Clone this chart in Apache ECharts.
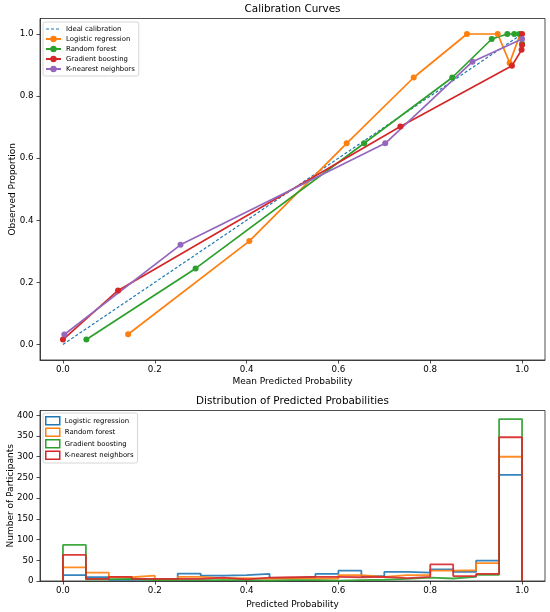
<!DOCTYPE html>
<html>
<head>
<meta charset="utf-8">
<script src="https://cdn.jsdelivr.net/npm/echarts@6/dist/echarts.min.js"></script>
<style>
  html, body { margin: 0; padding: 0; background: #fff; }
  #chart { width: 550px; height: 612px; }
</style>
</head>
<body>
<div id="chart"></div>
<script>
// calibration curves (mean predicted, observed proportion)
var idealLine = [0, 1];
var lrX = [0.142, 0.406, 0.618, 0.764, 0.880, 0.947, 0.973, 0.996];
var lrY = [0.033, 0.333, 0.648, 0.860, 1.0, 1.0, 0.907, 1.0];
var rfX = [0.051, 0.289, 0.656, 0.848, 0.934, 0.968, 0.983, 0.994, 1.0];
var rfY = [0.016, 0.245, 0.648, 0.860, 0.984, 1.0, 1.0, 1.0, 0.969];
var gbX = [0.0, 0.120, 0.735, 0.978, 0.999, 1.0, 1.0];
var gbY = [0.016, 0.174, 0.702, 0.898, 0.949, 1.0, 0.965];
var knnX = [0.003, 0.256, 0.702, 0.892, 1.0];
var knnY = [0.032, 0.321, 0.648, 0.911, 0.984];

// histogram counts, 20 bins of width 0.05
var binWidth = 0.05;
var histLR  = [14, 9, 3, 4, 4, 18, 13, 14, 17, 7, 10, 17, 25, 12, 22, 20, 28, 22, 49, 256];
var histRF  = [33, 20, 9, 13, 3, 10, 6, 7, 5, 6, 6, 6, 14, 10, 14, 14, 25, 26, 43, 300];
var histGB  = [87, 4, 5, 2, 2, 2, 2, 2, 1, 2, 2, 1, 2, 3, 5, 8, 6, 10, 15, 391];
var histKNN = [63, 5, 10, 5, 5, 5, 8, 4, 8, 9, 10, 10, 9, 10, 7, 10, 40, 12, 17, 347];

var models = ['Logistic regression', 'Random forest', 'Gradient boosting', 'K-nearest neighbors'];
var probTicks = [0, 0.2, 0.4, 0.6, 0.8, 1.0];
var countTicks = [0, 50, 100, 150, 200, 250, 300, 350, 400];

var FONT = 'DejaVu Sans';
var C = { blue: '#1f77b4', orange: '#ff7f0e', green: '#2ca02c', red: '#d62728', purple: '#9467bd' };

function pairs(xs, ys) {
  return xs.map(function (x, i) { return [x, ys[i]]; });
}

// outline of a step histogram
function stepOutline(counts) {
  var pts = [[0, 0]];
  counts.forEach(function (c, i) {
    pts.push([i * binWidth, c]);
    pts.push([(i + 1) * binWidth, c]);
  });
  pts.push([counts.length * binWidth, 0]);
  return pts;
}

var tickStyle = { color: '#222', width: 0.8 };

function xAxisCfg(grid, name, gap) {
  return {
    type: 'value', gridIndex: grid, min: -0.05, max: 1.05,
    name: name, nameLocation: 'middle', nameGap: gap, nameMoveOverlap: false,
    nameTextStyle: { fontSize: 9, color: '#000', fontFamily: FONT },
    axisLine: { show: true, onZero: false, lineStyle: tickStyle },
    axisTick: { show: true, inside: false, length: 3.5, customValues: probTicks, lineStyle: tickStyle },
    axisLabel: { customValues: probTicks, fontSize: 8.7, color: '#000', fontFamily: FONT, margin: 5.5,
      formatter: function (v) { return v.toFixed(1); } },
    splitLine: { show: false }
  };
}

function yAxisCfg(grid, name, gap, min, max, ticks, fmt) {
  return {
    type: 'value', gridIndex: grid, min: min, max: max,
    name: name, nameLocation: 'middle', nameGap: gap, nameMoveOverlap: false,
    nameTextStyle: { fontSize: 9, color: '#000', fontFamily: FONT },
    axisLine: { show: true, onZero: false, lineStyle: tickStyle },
    axisTick: { show: true, inside: false, length: 3.5, customValues: ticks, lineStyle: tickStyle },
    axisLabel: { customValues: ticks, fontSize: 8.7, color: '#000', fontFamily: FONT, margin: 6.5, formatter: fmt },
    splitLine: { show: false }
  };
}

function lineSeries(name, color, xs, ys) {
  return {
    name: name, type: 'line', xAxisIndex: 0, yAxisIndex: 0,
    data: pairs(xs, ys), color: color,
    symbol: 'circle', symbolSize: 6, showSymbol: true,
    lineStyle: { width: 1.7, color: color }, itemStyle: { color: color },
    z: 3
  };
}

function histSeries(name, color, counts) {
  return {
    name: 'h:' + name, type: 'line', xAxisIndex: 1, yAxisIndex: 1,
    data: stepOutline(counts), color: color, symbol: 'none',
    lineStyle: { width: 1.8, color: color, opacity: 0.9 },
    itemStyle: { color: color }
  };
}

var histColors = [C.blue, C.orange, C.green, C.red];

var legendBase = {
  orient: 'vertical', left: 43, padding: [3, 4, 3, 2],
  itemGap: 2, itemHeight: 8,
  textStyle: { fontSize: 6.9, lineHeight: 8, color: '#000', fontFamily: FONT },
  borderColor: '#ccc', borderWidth: 0.8, borderRadius: 2, backgroundColor: 'rgba(255,255,255,0.8)'
};

var option = {
  animation: false,
  backgroundColor: '#fff',
  textStyle: { fontFamily: FONT },
  title: [
    { text: 'Calibration Curves', left: 292.5, top: 4, textAlign: 'center', padding: 0,
      textStyle: { fontSize: 10.4, fontWeight: 'normal', color: '#000', fontFamily: FONT } },
    { text: 'Distribution of Predicted Probabilities', left: 292.5, top: 396, textAlign: 'center', padding: 0,
      textStyle: { fontSize: 10.4, fontWeight: 'normal', color: '#000', fontFamily: FONT } }
  ],
  grid: [
    { left: 40, top: 18.5, width: 505, height: 341.5, show: true, borderColor: '#222', borderWidth: 0.8,
      containLabel: false, outerBoundsMode: 'none' },
    { left: 40, top: 410.5, width: 505, height: 170.5, show: true, borderColor: '#222', borderWidth: 0.8,
      containLabel: false, outerBoundsMode: 'none' }
  ],
  xAxis: [
    xAxisCfg(0, 'Mean Predicted Probability', 17),
    xAxisCfg(1, 'Predicted Probability', 19)
  ],
  yAxis: [
    yAxisCfg(0, 'Observed Proportion', 23, -0.05, 1.05, probTicks, function (v) { return v.toFixed(1); }),
    yAxisCfg(1, 'Number of Participants', 25, 0, 411.6, countTicks, function (v) { return String(v); })
  ],
  legend: [
    Object.assign({}, legendBase, {
      top: 22, itemWidth: 15,
      data: [{ name: 'Ideal calibration', itemStyle: { opacity: 0 },
        lineStyle: { type: [3, 2], width: 1.2, color: C.blue } }].concat(models)
    }),
    Object.assign({}, legendBase, {
      top: 413, itemWidth: 14,
      formatter: function (n) { return n.replace(/^h:/, ''); },
      data: models.map(function (m, i) {
        return { name: 'h:' + m, icon: 'rect',
          itemStyle: { color: 'rgba(255,255,255,0)', borderColor: histColors[i], borderWidth: 1.5 } };
      })
    })
  ],
  series: [
    {
      name: 'Ideal calibration', type: 'line', xAxisIndex: 0, yAxisIndex: 0,
      data: pairs(idealLine, idealLine), color: C.blue, symbol: 'none',
      lineStyle: { width: 1.2, type: [3, 2], color: C.blue }, z: 2
    },
    lineSeries(models[0], C.orange, lrX, lrY),
    lineSeries(models[1], C.green, rfX, rfY),
    lineSeries(models[2], C.red, gbX, gbY),
    lineSeries(models[3], C.purple, knnX, knnY),
    histSeries(models[0], C.blue, histLR),
    histSeries(models[1], C.orange, histRF),
    histSeries(models[2], C.green, histGB),
    histSeries(models[3], C.red, histKNN)
  ]
};

var chart = echarts.init(document.getElementById('chart'));
chart.setOption(option);
</script>
</body>
</html>
